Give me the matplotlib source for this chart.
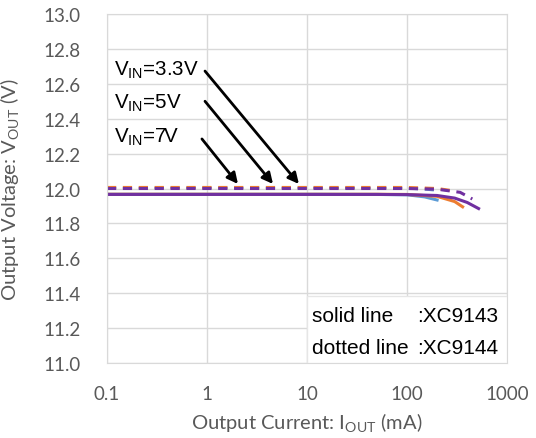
import numpy as np
import matplotlib
matplotlib.use("Agg")
import matplotlib.pyplot as plt
from matplotlib.patches import Rectangle

# Output current (mA) and output voltage (V)
i_blue = [0.1, 1, 10, 50, 100, 150, 200]
v_blue_solid = [11.967, 11.967, 11.967, 11.966, 11.964, 11.952, 11.934]
v_blue_dash = [12.003, 12.003, 12.003, 12.003, 12.002, 11.997, 11.99]

i_orange = [0.1, 1, 10, 50, 100, 200, 300, 360]
v_orange_solid = [11.967, 11.967, 11.967, 11.967, 11.966, 11.955, 11.925, 11.895]
i_orange_d = [0.1, 1, 10, 50, 100, 200, 280]
v_orange_dash = [12.006, 12.006, 12.006, 12.006, 12.006, 12.0, 11.988]

i_purple = [0.1, 1, 10, 50, 100, 200, 300, 400, 520]
v_purple_solid = [11.966, 11.966, 11.966, 11.966, 11.965, 11.96, 11.945, 11.92, 11.885]
i_purple_d = [0.1, 1, 10, 50, 100, 200, 340, 450]
v_purple_dash = [12.0, 12.0, 12.0, 12.0, 12.0, 11.996, 11.978, 11.94]

x_ticks = [0.1, 1, 10, 100, 1000]
x_tick_labels = ["0.1", "1", "10", "100", "1000"]
y_ticks = np.arange(11.0, 13.01, 0.2)

labels = [r"V$_{\mathregular{IN}}$=3.3V", r"V$_{\mathregular{IN}}$=5V", r"V$_{\mathregular{IN}}$=7V"]
label_pos = [(0.117, 12.685), (0.117, 12.496), (0.117, 12.30)]
arrow_tail = [(0.955, 12.673), (0.955, 12.50), (0.89, 12.284)]
arrow_head = [(8.3, 12.026), (4.57, 12.026), (2.04, 12.026)]

blue, orange, purple = "#5B9BD5", "#ED7D31", "#7030A0"
grey_txt = "#595959"
grid_c = "#D9D9D9"

fig = plt.figure(figsize=(5.36, 4.39), dpi=100)
ax = fig.add_axes([107 / 536, (439 - 364) / 439, 400 / 536, 349 / 439])

lw = 2.2
ax.plot(i_blue, v_blue_solid, color=blue, lw=lw)
ax.plot(i_orange, v_orange_solid, color=orange, lw=lw)
ax.plot(i_purple, v_purple_solid, color=purple, lw=lw)
ax.plot(i_blue, v_blue_dash, color=blue, lw=lw, dashes=(3, 2.2))
ax.plot(i_orange_d, v_orange_dash, color=orange, lw=lw, dashes=(3, 2.2))
ax.plot(i_purple_d, v_purple_dash, color=purple, lw=lw, dashes=(3, 2.2))

ax.set_xscale("log")
ax.set_xlim(0.1, 1000)
ax.set_ylim(11.0, 13.0)
ax.set_xticks(x_ticks)
ax.set_xticklabels(x_tick_labels)
ax.set_yticks(y_ticks)
ax.set_yticklabels(["%.1f" % v for v in y_ticks])
ax.minorticks_off()
ax.tick_params(length=0, labelsize=13.5, labelcolor=grey_txt)
ax.tick_params(axis="y", pad=19)
ax.tick_params(axis="x", pad=16)
for lab in ax.get_xticklabels() + ax.get_yticklabels():
    lab.set_family("Lato")
ax.grid(True, color=grid_c, lw=1)
ax.set_axisbelow(True)
for s in ax.spines.values():
    s.set_color(grid_c)

ax.set_xlabel(r"Output Current: I$_{\mathregular{OUT}}$ (mA)", fontsize=14.5,
              color=grey_txt, family="Lato")
ax.set_ylabel(r"Output Voltage: V$_{\mathregular{OUT}}$ (V)", fontsize=14.5,
              color=grey_txt, family="Lato")
ax.xaxis.set_label_coords(0.5, -(412 - 364) / 349)
ax.yaxis.set_label_coords(-(107 - 22) / 400, 0.5)

for txt, pos, tail, head in zip(labels, label_pos, arrow_tail, arrow_head):
    ax.text(pos[0], pos[1], txt, fontsize=14.8, family="Liberation Sans",
            va="center", ha="left")
    ax.annotate("", xy=head, xytext=tail,
                arrowprops=dict(arrowstyle="-|>", color="black", lw=2,
                                mutation_scale=16, shrinkA=0, shrinkB=0))

# text box for line-style key
ax.add_patch(Rectangle((0.5, 0.0), 0.5, 0.192, transform=ax.transAxes,
                       fc="white", ec="#E6E6E6", lw=1, zorder=5))
ax.text(0.5125, 0.1347, "solid line", transform=ax.transAxes, va="center",
        fontsize=15, family="Liberation Sans", zorder=6)
ax.text(0.775, 0.1347, ":XC9143", transform=ax.transAxes, va="center",
        fontsize=15, family="Liberation Sans", zorder=6)
ax.text(0.5125, 0.043, "dotted line", transform=ax.transAxes, va="center",
        fontsize=15, family="Liberation Sans", zorder=6)
ax.text(0.775, 0.043, ":XC9144", transform=ax.transAxes, va="center",
        fontsize=15, family="Liberation Sans", zorder=6)

fig.savefig("out.png", dpi=100)
